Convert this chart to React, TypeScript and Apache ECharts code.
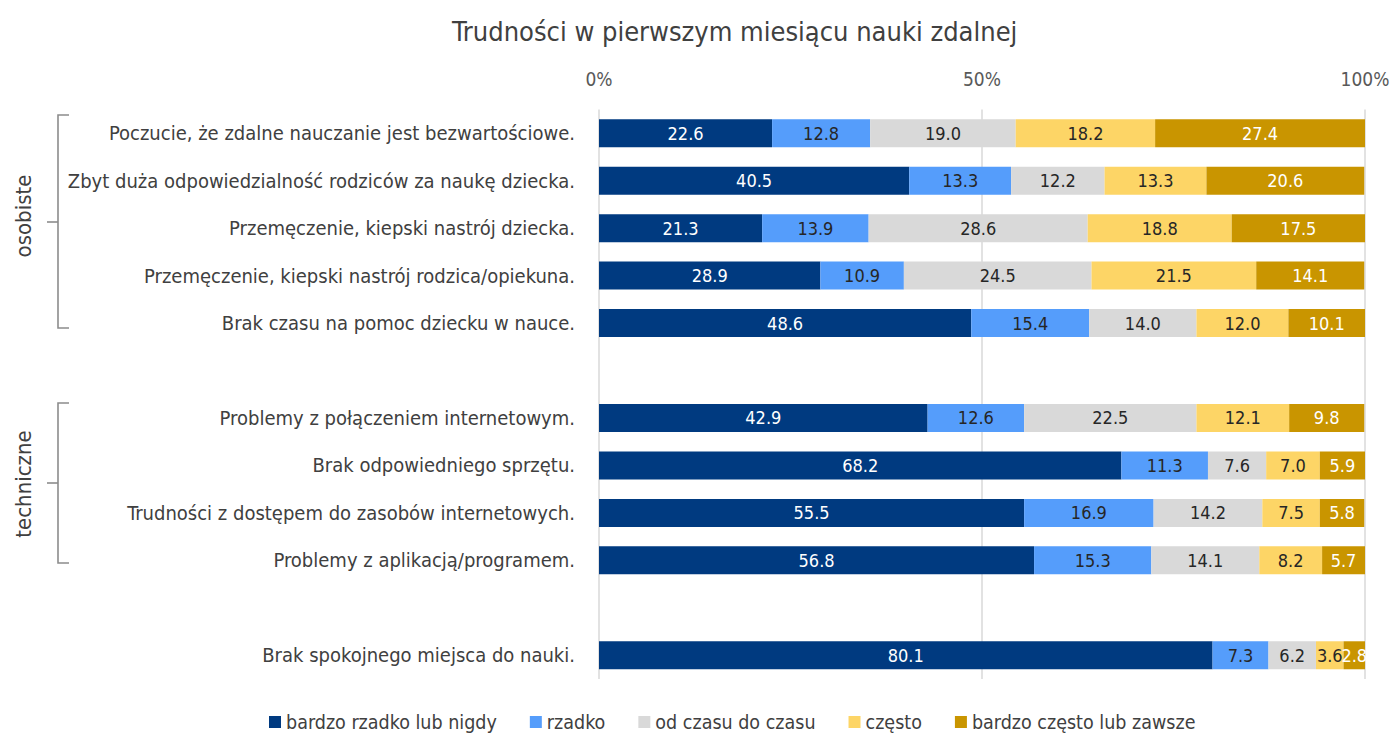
import React, { useEffect, useRef } from "react";
import * as echarts from "echarts";

const FONT = "'Liberation Sans Narrow', 'DejaVu Sans Condensed', sans-serif";

const categories = [
  "Poczucie, że zdalne nauczanie jest bezwartościowe.",
  "Zbyt duża odpowiedzialność rodziców za naukę dziecka.",
  "Przemęczenie, kiepski nastrój dziecka.",
  "Przemęczenie, kiepski nastrój rodzica/opiekuna.",
  "Brak czasu na pomoc dziecku w nauce.",
  "",
  "Problemy z połączeniem internetowym.",
  "Brak odpowiedniego sprzętu.",
  "Trudności z dostępem do zasobów internetowych.",
  "Problemy z aplikacją/programem.",
  " ",
  "Brak spokojnego miejsca do nauki.",
];

const seriesNames = [
  "bardzo rzadko lub nigdy",
  "rzadko",
  "od czasu do czasu",
  "często",
  "bardzo często lub zawsze",
];

const bardzoRzadko = [22.6, 40.5, 21.3, 28.9, 48.6, null, 42.9, 68.2, 55.5, 56.8, null, 80.1];
const rzadko = [12.8, 13.3, 13.9, 10.9, 15.4, null, 12.6, 11.3, 16.9, 15.3, null, 7.3];
const odCzasu = [19.0, 12.2, 28.6, 24.5, 14.0, null, 22.5, 7.6, 14.2, 14.1, null, 6.2];
const czesto = [18.2, 13.3, 18.8, 21.5, 12.0, null, 12.1, 7.0, 7.5, 8.2, null, 3.6];
const bardzoCzesto = [27.4, 20.6, 17.5, 14.1, 10.1, null, 9.8, 5.9, 5.8, 5.7, null, 2.8];

const seriesValues = [bardzoRzadko, rzadko, odCzasu, czesto, bardzoCzesto];
const colors = ["#003A80", "#559DFB", "#D9D9D9", "#FDD566", "#C99500"];
const labelColors = ["#FFFFFF", "#262626", "#262626", "#262626", "#FFFFFF"];

const groupLabels = ["osobiste", "techniczne"];

export default function App() {
  const ref = useRef<HTMLDivElement>(null);
  useEffect(() => {
    if (!ref.current) return;
    const chart = echarts.init(ref.current, undefined, { renderer: "svg" });
    const bracketStyle = { stroke: "#8C8C8C", lineWidth: 1.6, fill: "none" };
    chart.setOption({
      animation: false,
      textStyle: { fontFamily: FONT },
      title: {
        text: "Trudności w pierwszym miesiącu nauki zdalnej",
        left: 447,
        top: 13,
        textStyle: { fontFamily: FONT, fontSize: 27, fontWeight: "normal", color: "#404040" },
      },
      legend: {
        top: 707,
        left: 264,
        itemWidth: 12,
        itemHeight: 12,
        itemGap: 33,
        icon: "rect",
        textStyle: { fontFamily: FONT, fontSize: 19.5, color: "#404040" },
        data: seriesNames,
      },
      grid: { left: 599, right: 35, top: 109.5, bottom: 56 },
      xAxis: {
        type: "value",
        position: "top",
        min: 0,
        max: 100,
        interval: 50,
        axisLine: { show: false },
        axisTick: { show: false },
        axisLabel: {
          formatter: "{value}%",
          fontFamily: FONT,
          fontSize: 19,
          color: "#595959",
          margin: 21,
        },
        splitLine: { show: true, lineStyle: { color: "#D9D9D9", width: 1.5 } },
      },
      yAxis: {
        type: "category",
        inverse: true,
        data: categories,
        axisLine: { show: false },
        axisTick: { show: false },
        axisLabel: { fontFamily: FONT, fontSize: 20, color: "#404040", margin: 24 },
      },
      series: seriesValues.map((vals, i) => ({
        name: seriesNames[i],
        type: "bar",
        stack: "total",
        barWidth: 28,
        data: vals,
        itemStyle: { color: colors[i] },
        label: {
          show: true,
          position: "inside",
          formatter: (p: any) => (p.value == null ? "" : Number(p.value).toFixed(1)),
          fontFamily: FONT,
          fontSize: 18,
          color: labelColors[i],
        },
      })),
      graphic: [
        { type: "polyline", shape: { points: [[69, 115], [58, 115], [58, 328], [69, 328]] }, style: bracketStyle },
        { type: "line", shape: { x1: 47, y1: 222, x2: 58, y2: 222 }, style: bracketStyle },
        { type: "polyline", shape: { points: [[69, 403], [58, 403], [58, 563], [69, 563]] }, style: bracketStyle },
        { type: "line", shape: { x1: 47, y1: 483, x2: 58, y2: 483 }, style: bracketStyle },
        {
          type: "text",
          x: 23,
          y: 216,
          rotation: Math.PI / 2,
          style: { text: groupLabels[0], fontFamily: FONT, fontSize: 22, fill: "#404040", align: "center", verticalAlign: "middle" },
        },
        {
          type: "text",
          x: 23,
          y: 484,
          rotation: Math.PI / 2,
          style: { text: groupLabels[1], fontFamily: FONT, fontSize: 22, fill: "#404040", align: "center", verticalAlign: "middle" },
        },
      ],
    });
    return () => chart.dispose();
  }, []);
  return <div ref={ref} style={{ width: 1400, height: 735, position: "absolute", left: 0, top: 0 }} />;
}
